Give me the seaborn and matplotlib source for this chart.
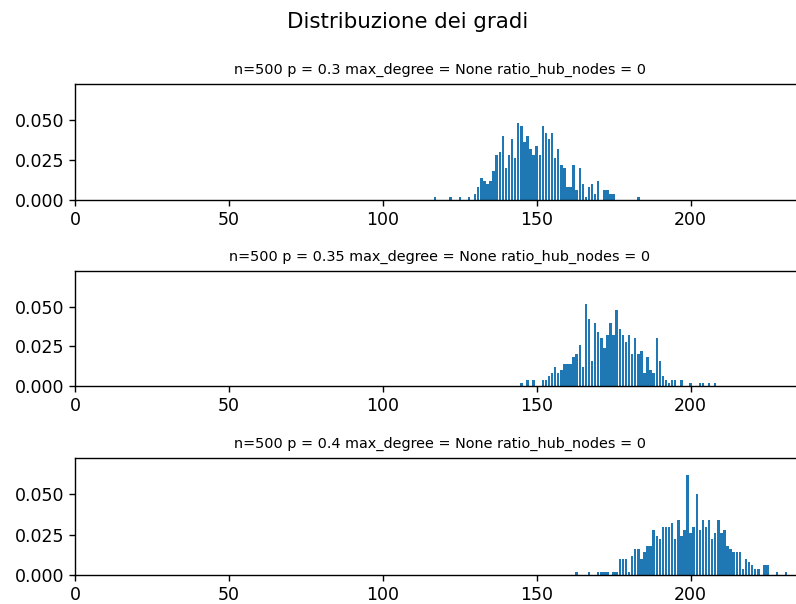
import matplotlib
matplotlib.use("Agg")
import matplotlib.pyplot as plt
import seaborn as sns
import pandas as pd

titles = [
    "n=500 p = 0.3 max_degree = None ratio_hub_nodes = 0",
    "n=500 p = 0.35 max_degree = None ratio_hub_nodes = 0",
    "n=500 p = 0.4 max_degree = None ratio_hub_nodes = 0",
]

deg1 = [117, 122, 125, 128, 130, 131, 132, 133, 134, 135, 136, 137, 138, 139, 140,
        141, 142, 143, 144, 145, 146, 147, 148, 149, 150, 151, 152, 153, 154, 155,
        156, 157, 158, 159, 160, 161, 162, 163, 164, 165, 166, 167, 168, 169, 170,
        172, 173, 174, 175, 183]
val1 = [0.002, 0.002, 0.002, 0.002, 0.004, 0.008, 0.014, 0.012, 0.010, 0.012, 0.018, 0.028, 0.030, 0.040, 0.020,
        0.028, 0.038, 0.026, 0.048, 0.046, 0.036, 0.040, 0.032, 0.028, 0.034, 0.028, 0.046, 0.042, 0.038, 0.042,
        0.026, 0.032, 0.022, 0.020, 0.008, 0.008, 0.022, 0.006, 0.020, 0.010, 0.002, 0.008, 0.010, 0.004, 0.012,
        0.006, 0.006, 0.004, 0.004, 0.002]

deg2 = [145, 147, 149, 152, 153, 154, 155, 156, 157, 158, 159, 160, 161, 162, 163,
        164, 165, 166, 167, 168, 169, 170, 171, 172, 173, 174, 175, 176, 177, 178,
        179, 180, 181, 182, 183, 184, 185, 186, 187, 188, 189, 190, 191, 192, 193,
        194, 195, 197, 200, 203, 204, 206, 208]
val2 = [0.002, 0.004, 0.004, 0.004, 0.004, 0.006, 0.008, 0.012, 0.008, 0.010, 0.014, 0.014, 0.014, 0.018, 0.020,
        0.026, 0.012, 0.052, 0.042, 0.016, 0.040, 0.034, 0.030, 0.024, 0.032, 0.040, 0.032, 0.048, 0.036, 0.032,
        0.028, 0.032, 0.020, 0.030, 0.020, 0.022, 0.008, 0.018, 0.010, 0.008, 0.030, 0.016, 0.006, 0.004, 0.002,
        0.004, 0.004, 0.004, 0.002, 0.002, 0.002, 0.002, 0.002]

deg3 = [163, 167, 170, 171, 172, 173, 175, 176, 177, 178, 179, 180, 181, 182, 183,
        184, 185, 186, 187, 188, 189, 190, 191, 192, 193, 194, 195, 196, 197, 198,
        199, 200, 201, 202, 203, 204, 205, 206, 207, 208, 209, 210, 211, 212, 213,
        214, 215, 216, 217, 218, 219, 220, 221, 222, 224, 225, 228, 231]
val3 = [0.002, 0.002, 0.002, 0.002, 0.002, 0.002, 0.002, 0.002, 0.010, 0.010, 0.010, 0.002, 0.012, 0.016, 0.016,
        0.010, 0.014, 0.018, 0.018, 0.028, 0.024, 0.022, 0.030, 0.030, 0.030, 0.032, 0.022, 0.034, 0.024, 0.028,
        0.062, 0.026, 0.030, 0.050, 0.028, 0.034, 0.030, 0.034, 0.022, 0.026, 0.034, 0.026, 0.028, 0.018, 0.016,
        0.014, 0.014, 0.014, 0.004, 0.010, 0.008, 0.006, 0.004, 0.004, 0.006, 0.006, 0.002, 0.002]

xticks = [0, 50, 100, 150, 200]
yticks = [0.0, 0.025, 0.05]

series = [(deg1, val1), (deg2, val2), (deg3, val3)]

plt.rcParams.update({
    "axes.linewidth": 1.0,
    "xtick.major.size": 4.4,
    "ytick.major.size": 4.4,
    "xtick.major.width": 1.0,
    "ytick.major.width": 1.0,
    "xtick.labelsize": 12.5,
    "ytick.labelsize": 12.5,
})

fig = plt.figure(figsize=(7.96, 6.04), dpi=100)
W, H = 796, 604
left = 75
right = 805
tops = [84, 271, 458]
bottoms = [200, 386, 575]

for i, ((d, v), t) in enumerate(zip(series, titles)):
    ax = fig.add_axes([left / W, 1 - bottoms[i] / H, (right - left) / W, (bottoms[i] - tops[i]) / H])
    df = pd.DataFrame({"degree": d, "freq": v})
    sns.barplot(data=df, x="degree", y="freq", native_scale=True, width=0.8,
                color="#1f77b4", saturation=1, errorbar=None, ax=ax)
    ax.set_xlim(0, (right - left) / 3.078)
    ax.set_ylim(0, 0.0725)
    ax.set_xticks(xticks)
    ax.set_xticklabels([str(x) for x in xticks])
    ax.set_yticks(yticks)
    ax.set_yticklabels(["0.000", "0.025", "0.050"])
    ax.set_xlabel("")
    ax.set_ylabel("")
    ax.set_title(t, fontsize=10.4, pad=7.5)

fig.suptitle("Distribuzione dei gradi", fontsize=15.4, x=408 / W, y=1 - 22 / H, va="center")
fig.savefig("out.png", dpi=100)
